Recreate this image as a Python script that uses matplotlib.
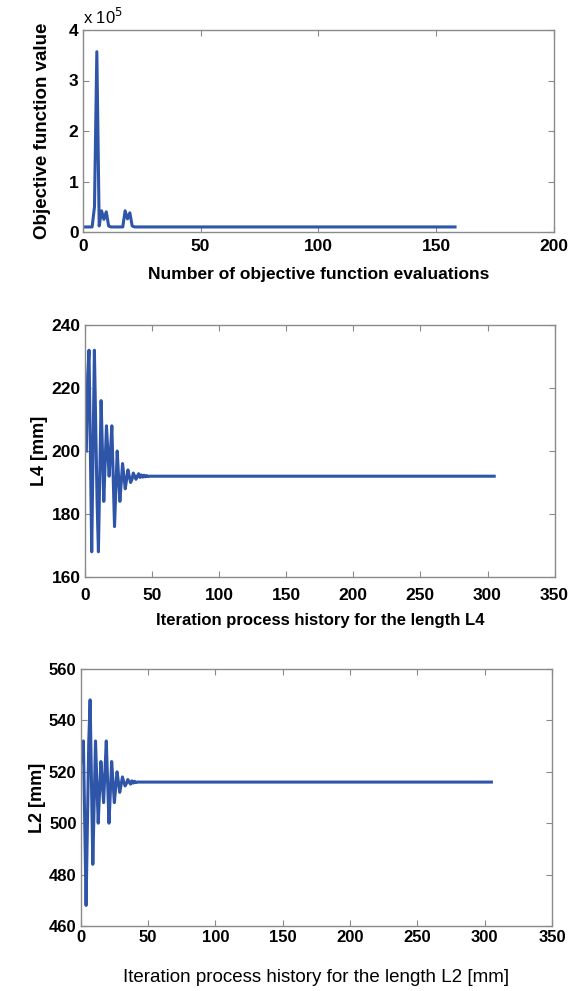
import matplotlib
matplotlib.use("Agg")
import matplotlib.pyplot as plt
from matplotlib.ticker import FuncFormatter

# ---- data ----
obj_x = [1, 2, 3, 4, 5, 6, 7, 8, 9, 10, 11, 12, 17, 18, 19, 20, 21, 22, 158]
obj_y = [1.0e4, 1.0e4, 1.0e4, 1.0e4, 5.0e4, 3.57e5, 1.2e4, 4.2e4, 2.5e4, 4.0e4,
         1.2e4, 1.0e4, 1.0e4, 4.2e4, 2.6e4, 3.8e4, 1.2e4, 1.0e4, 1.0e4]

l4_x = [1, 2, 3, 4, 5, 6, 7, 8, 9, 10, 11, 12, 13, 14, 15, 16, 17, 18, 19, 20,
        21, 22, 23, 24, 25, 26, 27, 28, 29, 30, 31, 32, 33, 34, 35, 36, 37, 38,
        39, 40, 41, 42, 43, 44, 45, 46, 47, 48, 305]
l4_y = [200, 224, 232, 200, 168, 200, 232, 208, 184, 168, 192, 216, 200, 184,
        196, 208, 200, 192, 200, 208, 192, 176, 188, 200, 192, 184, 190, 196,
        192, 188, 191, 194, 192, 190, 191, 193, 192, 191, 192, 192.8, 191.6,
        192.4, 191.7, 192.3, 191.8, 192.2, 191.9, 192, 192]

l2_x = [1, 2, 3, 4, 5, 6, 7, 8, 9, 10, 11, 12, 13, 14, 15, 16, 17, 18, 19, 20,
        21, 22, 23, 24, 25, 26, 27, 28, 29, 30, 31, 32, 33, 34, 35, 36, 37, 38,
        39, 40, 41, 42, 305]
l2_y = [524, 532, 500, 468, 500, 532, 548, 516, 484, 508, 532, 516, 500, 512,
        524, 516, 508, 520, 532, 516, 500, 512, 524, 516, 508, 514, 520, 516,
        512, 515, 518, 516, 514.5, 515.5, 517, 516, 515.2, 516.5, 515.6, 516.3,
        515.8, 516, 516]

obj_yticks = [0, 1e5, 2e5, 3e5, 4e5]
obj_xticks = [0, 50, 100, 150, 200]
it_xticks = [0, 50, 100, 150, 200, 250, 300, 350]
l4_yticks = [160, 180, 200, 220, 240]
l2_yticks = [460, 480, 500, 520, 540, 560]

LINE = "#2E55A8"
FRAME = "#8a8a8a"
W, H = 575, 991

fig = plt.figure(figsize=(W / 100, H / 100), dpi=100)
fig.patch.set_facecolor("white")

BOLD = ["Liberation Sans", "DejaVu Sans"]


def add_axes(left, right, top, bottom):
    return fig.add_axes([left / W, 1 - bottom / H, (right - left) / W, (bottom - top) / H])


def style(ax, size, xpad=3):
    for s in ax.spines.values():
        s.set_color(FRAME)
        s.set_linewidth(1.0)
    ax.tick_params(direction="in", length=4, width=0.8, color=FRAME,
                   top=True, right=True, labelsize=size, pad=3)
    ax.tick_params(axis="x", pad=xpad)
    for lab in ax.get_xticklabels() + ax.get_yticklabels():
        lab.set_fontfamily(BOLD)
        lab.set_fontweight("bold")


def place_labels(ax, xl_y, yl_x):
    ax.xaxis.label.set_verticalalignment("center")
    ax.yaxis.label.set_verticalalignment("center")
    ax.xaxis.set_label_coords(0.5, xl_y)
    ax.yaxis.set_label_coords(yl_x, 0.5)


# ---- top panel ----
ax1 = add_axes(82.7, 554, 30, 232)
ax1.plot(obj_x, obj_y, color=LINE, lw=2.2)
ax1.set_xlim(0, 200)
ax1.set_ylim(0, 4e5)
ax1.set_xticks(obj_xticks)
ax1.set_yticks(obj_yticks)
ax1.yaxis.set_major_formatter(FuncFormatter(lambda v, p: f"{v / 1e5:.0f}"))
style(ax1, 12.5, xpad=5)
ax1.set_xlabel("Number of objective function evaluations", family=BOLD,
               fontweight="bold", fontsize=12.5)
ax1.set_ylabel("Objective function value", family=BOLD,
               fontweight="bold", fontsize=13.5)
place_labels(ax1, (232 - 274) / 202, (43 - 82.7) / 471.3)
ax1.text(0.0, 1.015, r"x 10$^{5}$", transform=ax1.transAxes, family=BOLD,
         fontsize=12, ha="left", va="bottom")

# ---- middle panel ----
ax2 = add_axes(85, 554.6, 325, 577)
ax2.plot(l4_x, l4_y, color=LINE, lw=2.2)
ax2.set_xlim(0, 350)
ax2.set_ylim(160, 240)
ax2.set_xticks(it_xticks)
ax2.set_yticks(l4_yticks)
style(ax2, 12.5, xpad=8)
ax2.set_xlabel("Iteration process history for the length L4", family=BOLD,
               fontweight="bold", fontsize=12)
ax2.set_ylabel("L4 [mm]", family=BOLD, fontweight="bold", fontsize=13)
place_labels(ax2, (577 - 620) / 252, (40 - 85) / 469.6)

# ---- bottom panel ----
ax3 = add_axes(80.7, 552, 669, 926)
ax3.plot(l2_x, l2_y, color=LINE, lw=2.2)
ax3.set_xlim(0, 350)
ax3.set_ylim(460, 560)
ax3.set_xticks(it_xticks)
ax3.set_yticks(l2_yticks)
style(ax3, 12)
ax3.set_xlabel("Iteration process history for the length L2 [mm]", family=BOLD,
               fontsize=13.5)
ax3.set_ylabel("L2 [mm]", family=BOLD, fontweight="bold", fontsize=13)
place_labels(ax3, (926 - 977) / 257, (38 - 80.7) / 471.3)

fig.savefig("out.png", dpi=100, facecolor="white")
